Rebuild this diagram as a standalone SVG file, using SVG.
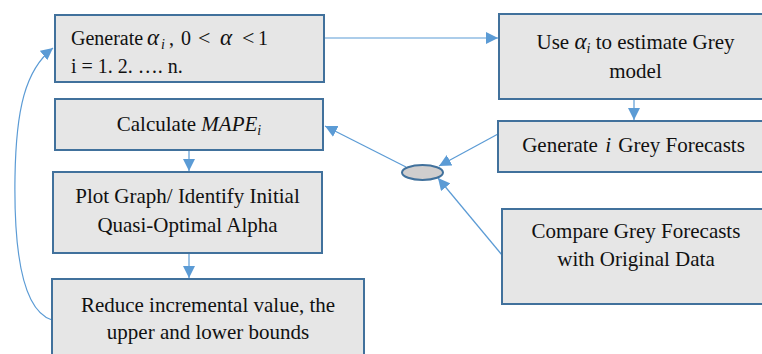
<svg xmlns="http://www.w3.org/2000/svg" width="762" height="354" viewBox="0 0 762 354">
<style>
.box{fill:#e6e6e6;stroke:#41719c;stroke-width:2}
text{font-family:'Liberation Serif','Times New Roman',serif;font-size:21px;fill:#111}
.b1{font-size:20px}
.m{font-style:italic}
.a{font-style:italic;font-size:23px}
.s{font-style:italic;font-size:14px}
.lt{font-size:22px}
.c{fill:none;stroke:#5b9bd5;stroke-width:1.2}
</style>
<defs>
<marker id="ah" markerUnits="userSpaceOnUse" markerWidth="14" markerHeight="12" refX="12" refY="6" orient="auto">
<path d="M0,0 L12,6 L0,12 Z" fill="#5b9bd5"/>
</marker>
</defs>
<rect width="762" height="354" fill="#fff"/>
<g id="connectors">
<line class="c" x1="324" y1="38" x2="498" y2="38" marker-end="url(#ah)"/>
<line class="c" x1="634" y1="99" x2="634" y2="120" marker-end="url(#ah)"/>
<line class="c" x1="498" y1="134" x2="439" y2="166" marker-end="url(#ah)"/>
<line class="c" x1="406" y1="167" x2="325" y2="126" marker-end="url(#ah)"/>
<line class="c" x1="502" y1="255" x2="438" y2="178" marker-end="url(#ah)"/>
<line class="c" x1="189" y1="150" x2="189" y2="171" marker-end="url(#ah)"/>
<line class="c" x1="189" y1="253" x2="189" y2="278" marker-end="url(#ah)"/>
<path class="c" d="M52,320 C20,310 14,240 15,177 C16,110 25,70 53,48" marker-end="url(#ah)"/>
</g>
<g id="generate-alpha">
<rect class="box" x="55" y="15" width="269" height="67"/>
<text class="b1" x="71" y="45">Generate <tspan class="a" x="147">α</tspan><tspan class="s" x="161" dy="4">i</tspan><tspan x="169" dy="-4">,</tspan><tspan x="181">0</tspan><tspan class="lt" x="198">&lt;</tspan><tspan class="a" x="220">α</tspan><tspan class="lt" x="242">&lt;</tspan><tspan x="258">1</tspan></text>
<text class="b1" x="71" y="73">i = 1. 2. …. n.</text>
</g>
<g id="calculate-mape">
<rect class="box" x="55" y="99" width="268" height="51"/>
<text x="189" y="131" text-anchor="middle">Calculate <tspan class="m">MAPE</tspan><tspan class="s" dy="4">i</tspan></text>
</g>
<g id="plot-graph">
<rect class="box" x="53" y="172" width="269" height="81"/>
<text x="187.5" y="203" text-anchor="middle">Plot Graph/ Identify Initial</text>
<text x="187.5" y="232" text-anchor="middle">Quasi-Optimal Alpha</text>
</g>
<g id="reduce">
<rect class="box" x="52" y="279" width="312" height="90"/>
<text x="208" y="312" text-anchor="middle">Reduce incremental value, the</text>
<text x="208" y="339" text-anchor="middle">upper and lower bounds</text>
</g>
<g id="use-alpha">
<rect class="box" x="499" y="14" width="280" height="85"/>
<text x="635.5" y="49" text-anchor="middle">Use <tspan class="a">α</tspan><tspan class="s" dy="4">i</tspan><tspan dy="-4"> to estimate Grey</tspan></text>
<text x="635.5" y="78" text-anchor="middle">model</text>
</g>
<g id="grey-forecasts">
<rect class="box" x="498" y="121" width="280" height="51"/>
<text x="633.5" y="152" text-anchor="middle">Generate <tspan class="m" dx="2">i</tspan><tspan dx="2"> Grey Forecasts</tspan></text>
</g>
<g id="compare">
<rect class="box" x="502" y="209" width="276" height="95"/>
<text x="636" y="238" text-anchor="middle">Compare Grey Forecasts</text>
<text x="636" y="266" text-anchor="middle">with Original Data</text>
</g>
<g id="junction">
<ellipse cx="422.5" cy="172.5" rx="20.5" ry="7.5" fill="#d0cece" stroke="#41719c" stroke-width="2"/>
</g>
</svg>
